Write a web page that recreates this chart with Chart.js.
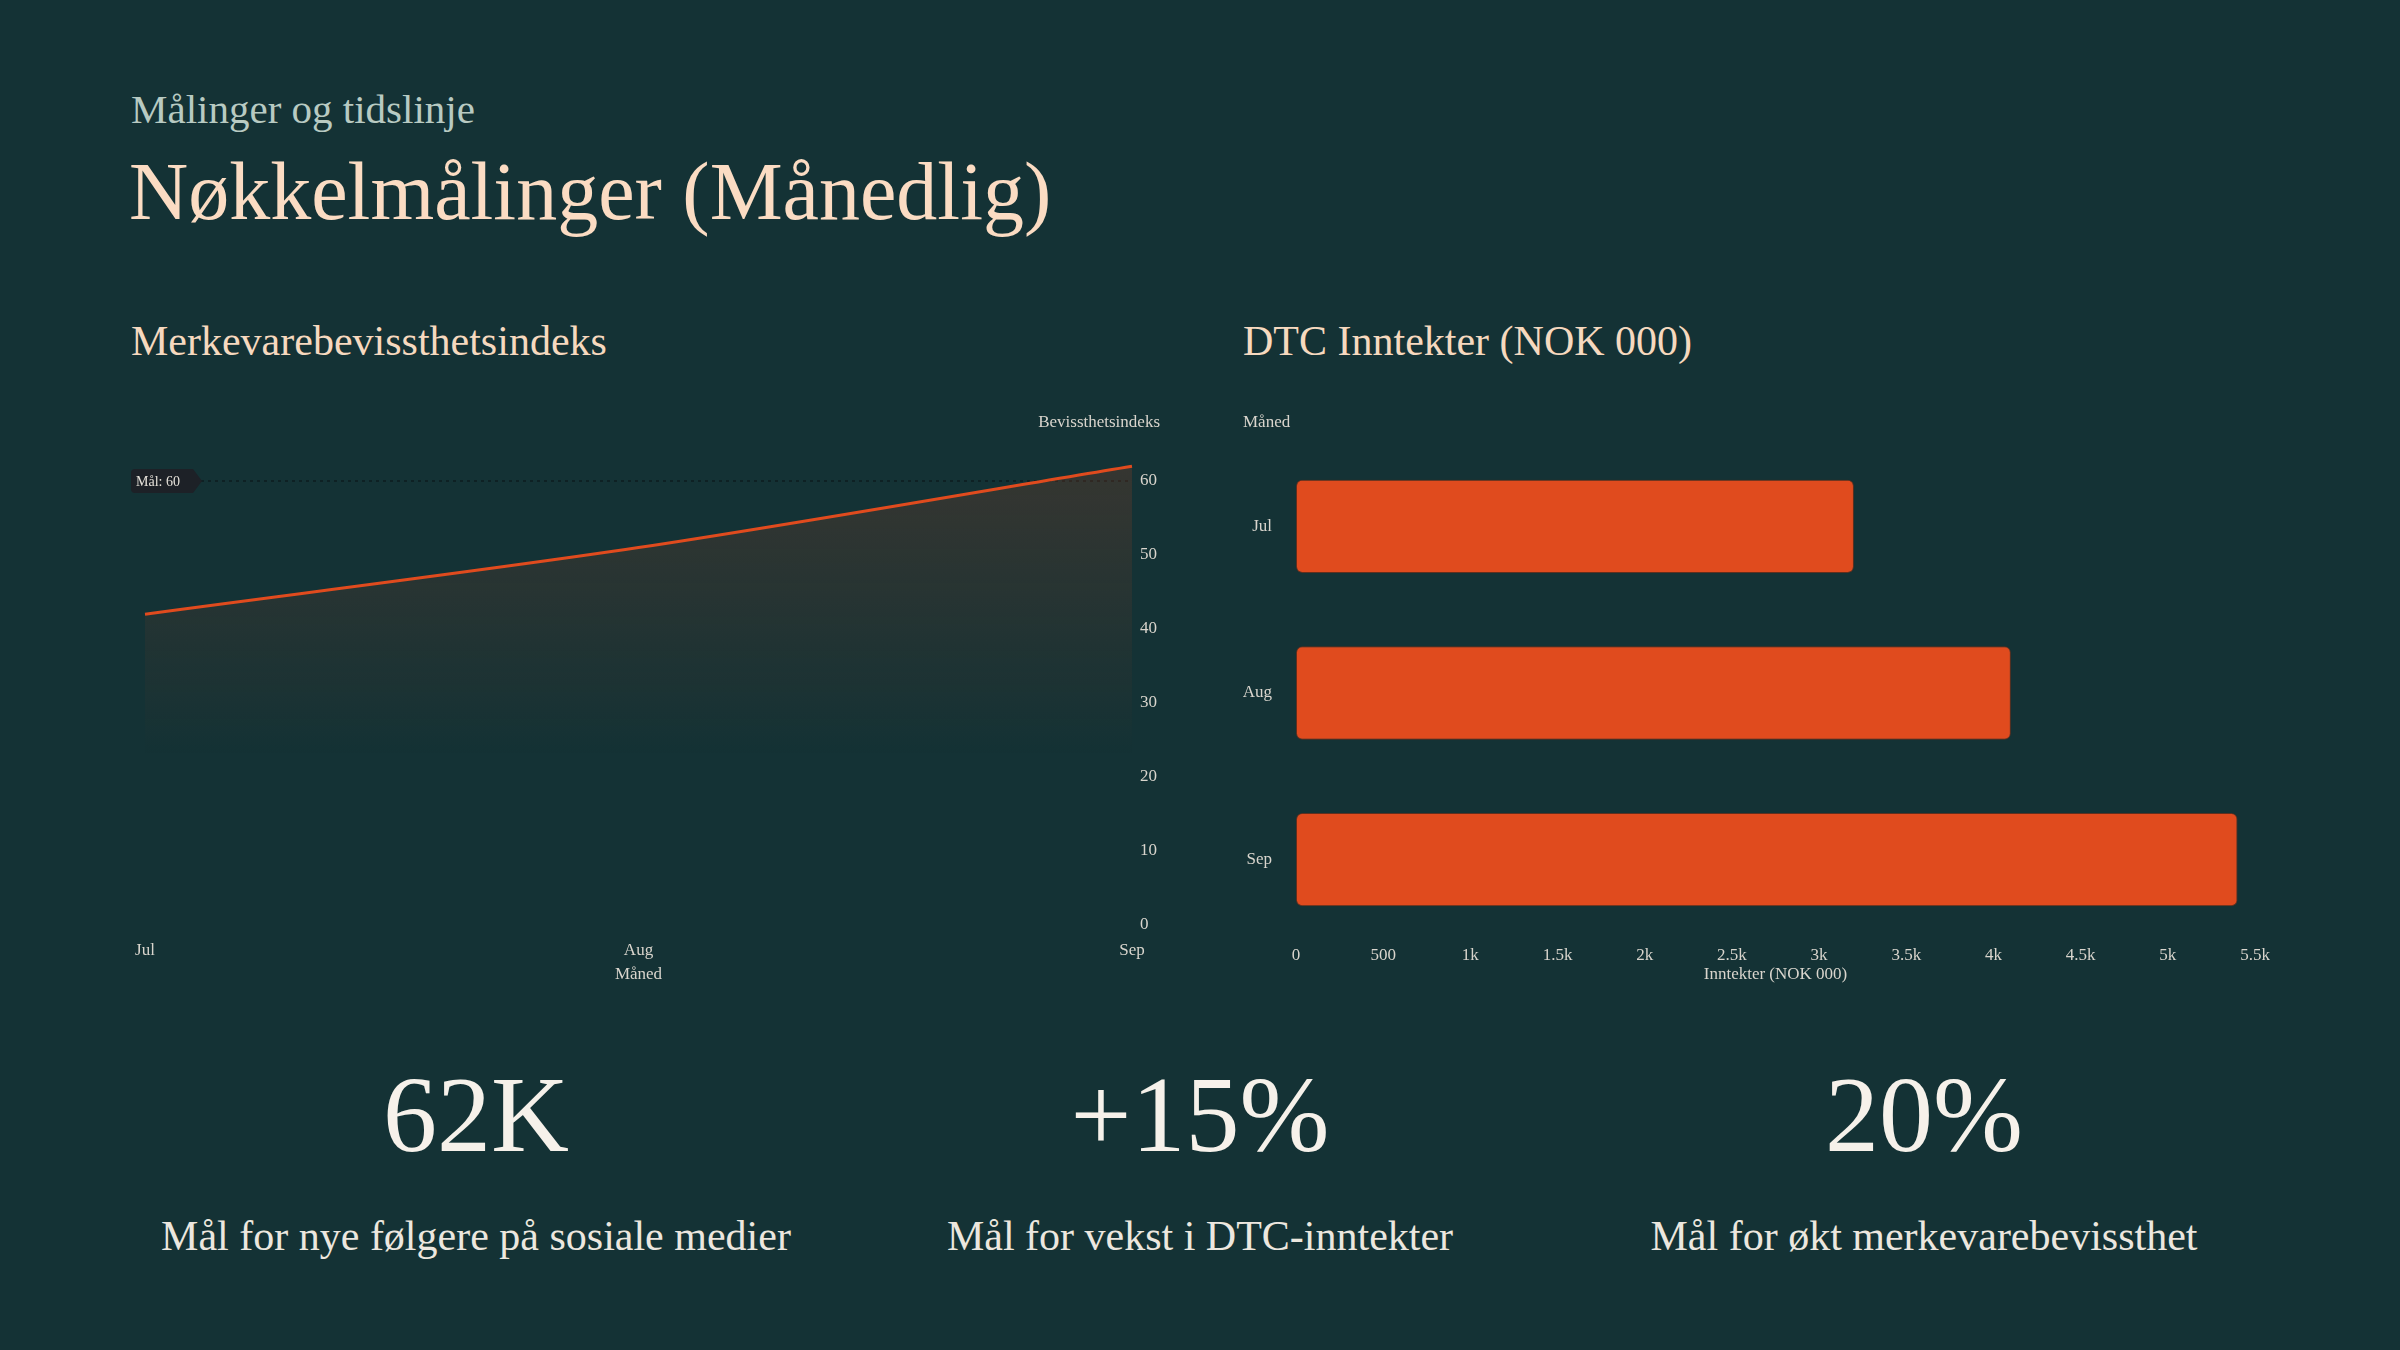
<!DOCTYPE html>
<html lang="no">
<head>
<meta charset="utf-8">
<title>Nøkkelmålinger (Månedlig)</title>
<script src="https://cdn.jsdelivr.net/npm/chart.js@4.4.1/dist/chart.umd.min.js"></script>
<style>
    html, body {
        margin: 0;
        padding: 0;
        background: #143235;
    }
    body {
        width: 2400px;
        height: 1350px;
        position: relative;
        overflow: hidden;
        font-family: "Liberation Serif", "DejaVu Serif", serif;
    }
    .abs { position: absolute; white-space: nowrap; line-height: 1.15; }
    #eyebrow { left: 131px; top: 86px; font-size: 41px; color: #b8cac2; }
    #title { left: 129px; top: 145px; font-size: 82px; color: #fbdcc3; }
    .section { top: 317px; font-size: 42px; color: #f6d9bf; }
    #lineTitle { left: 131px; }
    #barTitle { left: 1243px; }
    .chartBox { position: absolute; top: 400px; height: 600px; }
    #lineBox { left: 131px; width: 1060px; }
    #barBox { left: 1243px; width: 1060px; }
    .kpi { position: absolute; top: 1050px; width: 690px; text-align: center; }
    .kpi .val { font-size: 108px; color: #f6f1ea; line-height: 130px; }
    .kpi .lbl { font-size: 42px; color: #ece7df; margin-top: 32px; line-height: 1.15; }
</style>
</head>
<body>
<div id="eyebrow" class="abs">Målinger og tidslinje</div>
<div id="title" class="abs">Nøkkelmålinger (Månedlig)</div>
<div id="lineTitle" class="abs section">Merkevarebevissthetsindeks</div>
<div id="barTitle" class="abs section">DTC Inntekter (NOK 000)</div>

<div id="lineBox" class="chartBox"><canvas id="lineChart"></canvas></div>
<div id="barBox" class="chartBox"><canvas id="barChart"></canvas></div>

<div id="kpis"></div>

<script>
// data
const months = ['Jul', 'Aug', 'Sep'];
const awarenessIndex = [42, 51, 62];
const awarenessGoal = 60;
const dtcRevenue = [3200, 4100, 5400];

const kpiValues = ['62K', '+15%', '20%'];
const kpiLabels = [
    'Mål for nye følgere på sosiale medier',
    'Mål for vekst i DTC-inntekter',
    'Mål for økt merkevarebevissthet'
];

const ORANGE = '#e04b1e';
const TICK = '#d9d5cd';
const FONT = '"Liberation Serif", "DejaVu Serif", serif';

Chart.defaults.font.family = FONT;
Chart.defaults.font.size = 17;
Chart.defaults.color = TICK;

/**
 * Axis titles drawn flat: one above the value axis, one under the x axis.
 */
const axisTitles = {
    id: 'axisTitles',
    afterDraw(chart, args, opts) {
        const { ctx, chartArea } = chart;
        ctx.save();
        ctx.font = '17px ' + FONT;
        ctx.fillStyle = TICK;
        ctx.textBaseline = 'middle';
        if (opts.top) {
            ctx.textAlign = opts.top.align;
            const x = opts.top.align === 'right' ? chart.width - opts.top.inset : opts.top.inset;
            ctx.fillText(opts.top.text, x, opts.top.y);
        }
        if (opts.bottom) {
            ctx.textAlign = 'center';
            ctx.fillText(opts.bottom.text, (chartArea.left + chartArea.right) / 2, chartArea.bottom + opts.bottom.offset);
        }
        ctx.restore();
    }
};

/**
 * Dotted goal line with a small arrow-tag label on the left.
 */
const goalLine = {
    id: 'goalLine',
    beforeDatasetsDraw(chart, args, opts) {
        const { ctx, chartArea } = chart;
        const y = chart.scales.y.getPixelForValue(opts.value);
        ctx.save();
        ctx.strokeStyle = 'rgba(8, 14, 16, 0.6)';
        ctx.lineWidth = 1.5;
        ctx.setLineDash([3, 4]);
        ctx.beginPath();
        ctx.moveTo(70, y);
        ctx.lineTo(chartArea.right, y);
        ctx.stroke();
        ctx.setLineDash([]);
        const h = 24, w = 62, tip = 9, r = 4;
        ctx.fillStyle = '#1d2127';
        ctx.beginPath();
        ctx.moveTo(r, y - h / 2);
        ctx.lineTo(w, y - h / 2);
        ctx.lineTo(w + tip, y);
        ctx.lineTo(w, y + h / 2);
        ctx.lineTo(r, y + h / 2);
        ctx.quadraticCurveTo(0, y + h / 2, 0, y + h / 2 - r);
        ctx.lineTo(0, y - h / 2 + r);
        ctx.quadraticCurveTo(0, y - h / 2, r, y - h / 2);
        ctx.fill();
        ctx.font = '14px ' + FONT;
        ctx.fillStyle = '#e6e2da';
        ctx.textAlign = 'left';
        ctx.textBaseline = 'middle';
        ctx.fillText(opts.label, 5, y + 1);
        ctx.restore();
    }
};

function fadeFill(context) {
    const { ctx, chartArea } = context.chart;
    if (!chartArea) return 'rgba(224,75,30,0.15)';
    const g = ctx.createLinearGradient(0, chartArea.top, 0, chartArea.bottom);
    g.addColorStop(0, 'rgba(224, 75, 30, 0.18)');
    g.addColorStop(0.65, 'rgba(224, 75, 30, 0.0)');
    return g;
}

// fixed axis sizes so the plot areas land where they should
function fixHeight(h) {
    return scale => { scale.height = h; scale.paddingLeft = 0; scale.paddingRight = 0; };
}
function fixWidth(w) {
    return scale => { scale.width = w; scale.paddingTop = 0; scale.paddingBottom = 0; };
}

new Chart(document.getElementById('lineChart'), {
    type: 'line',
    data: {
        labels: months,
        datasets: [{
            label: 'Bevissthetsindeks',
            data: awarenessIndex,
            borderColor: ORANGE,
            borderWidth: 3,
            backgroundColor: fadeFill,
            fill: 'origin',
            tension: 0.3,
            pointRadius: 0
        }]
    },
    options: {
        responsive: true,
        maintainAspectRatio: false,
        animation: false,
        layout: { padding: { left: 14, right: 19, top: 44, bottom: 15 } },
        plugins: {
            legend: { display: false },
            tooltip: { enabled: false },
            axisTitles: {
                top: { text: 'Bevissthetsindeks', align: 'right', inset: 31, y: 23 },
                bottom: { text: 'Måned', offset: 50 }
            },
            goalLine: { value: awarenessGoal, label: 'Mål: ' + awarenessGoal }
        },
        scales: {
            x: {
                offset: false,
                grid: { display: false, drawTicks: false },
                border: { display: false },
                ticks: { padding: 15, maxRotation: 0 },
                afterFit: fixHeight(60)
            },
            y: {
                position: 'right',
                min: 0,
                max: 65,
                grid: { display: false, drawTicks: false },
                border: { display: false },
                ticks: { stepSize: 10, padding: 8 },
                afterFit: fixWidth(40),
                afterBuildTicks(scale) {
                    scale.ticks = scale.ticks.filter(t => t.value % 10 === 0);
                }
            }
        }
    },
    plugins: [axisTitles, goalLine]
});

new Chart(document.getElementById('barChart'), {
    type: 'bar',
    data: {
        labels: months,
        datasets: [{
            label: 'Inntekter (NOK 000)',
            data: dtcRevenue,
            backgroundColor: ORANGE,
            borderColor: 'rgba(150, 45, 15, 0.6)',
            borderWidth: 1,
            borderRadius: 6,
            borderSkipped: false,
            barPercentage: 0.7,
            categoryPercentage: 0.8
        }]
    },
    options: {
        indexAxis: 'y',
        responsive: true,
        maintainAspectRatio: false,
        animation: false,
        layout: { padding: { left: 0, right: 48, top: 43, bottom: 12 } },
        plugins: {
            legend: { display: false },
            tooltip: { enabled: false },
            axisTitles: {
                top: { text: 'Måned', align: 'left', inset: 0, y: 23 },
                bottom: { text: 'Inntekter (NOK 000)', offset: 32 }
            }
        },
        scales: {
            x: {
                min: 0,
                max: 5500,
                grid: { display: false, drawTicks: false },
                border: { display: false },
                ticks: {
                    stepSize: 500,
                    padding: 2,
                    maxRotation: 0,
                    callback: v => v >= 1000 ? (v / 1000) + 'k' : v
                },
                afterFit: fixHeight(45)
            },
            y: {
                grid: { display: false, drawTicks: false },
                border: { display: false },
                ticks: { padding: 24 },
                afterFit: fixWidth(53)
            }
        }
    },
    plugins: [axisTitles]
});

// KPI row
const kpiBox = document.getElementById('kpis');
kpiValues.forEach((v, i) => {
    const el = document.createElement('div');
    el.className = 'kpi';
    el.style.left = (131 + i * 724) + 'px';
    el.innerHTML = '<div class="val">' + v + '</div><div class="lbl">' + kpiLabels[i] + '</div>';
    kpiBox.appendChild(el);
});
</script>
</body>
</html>
